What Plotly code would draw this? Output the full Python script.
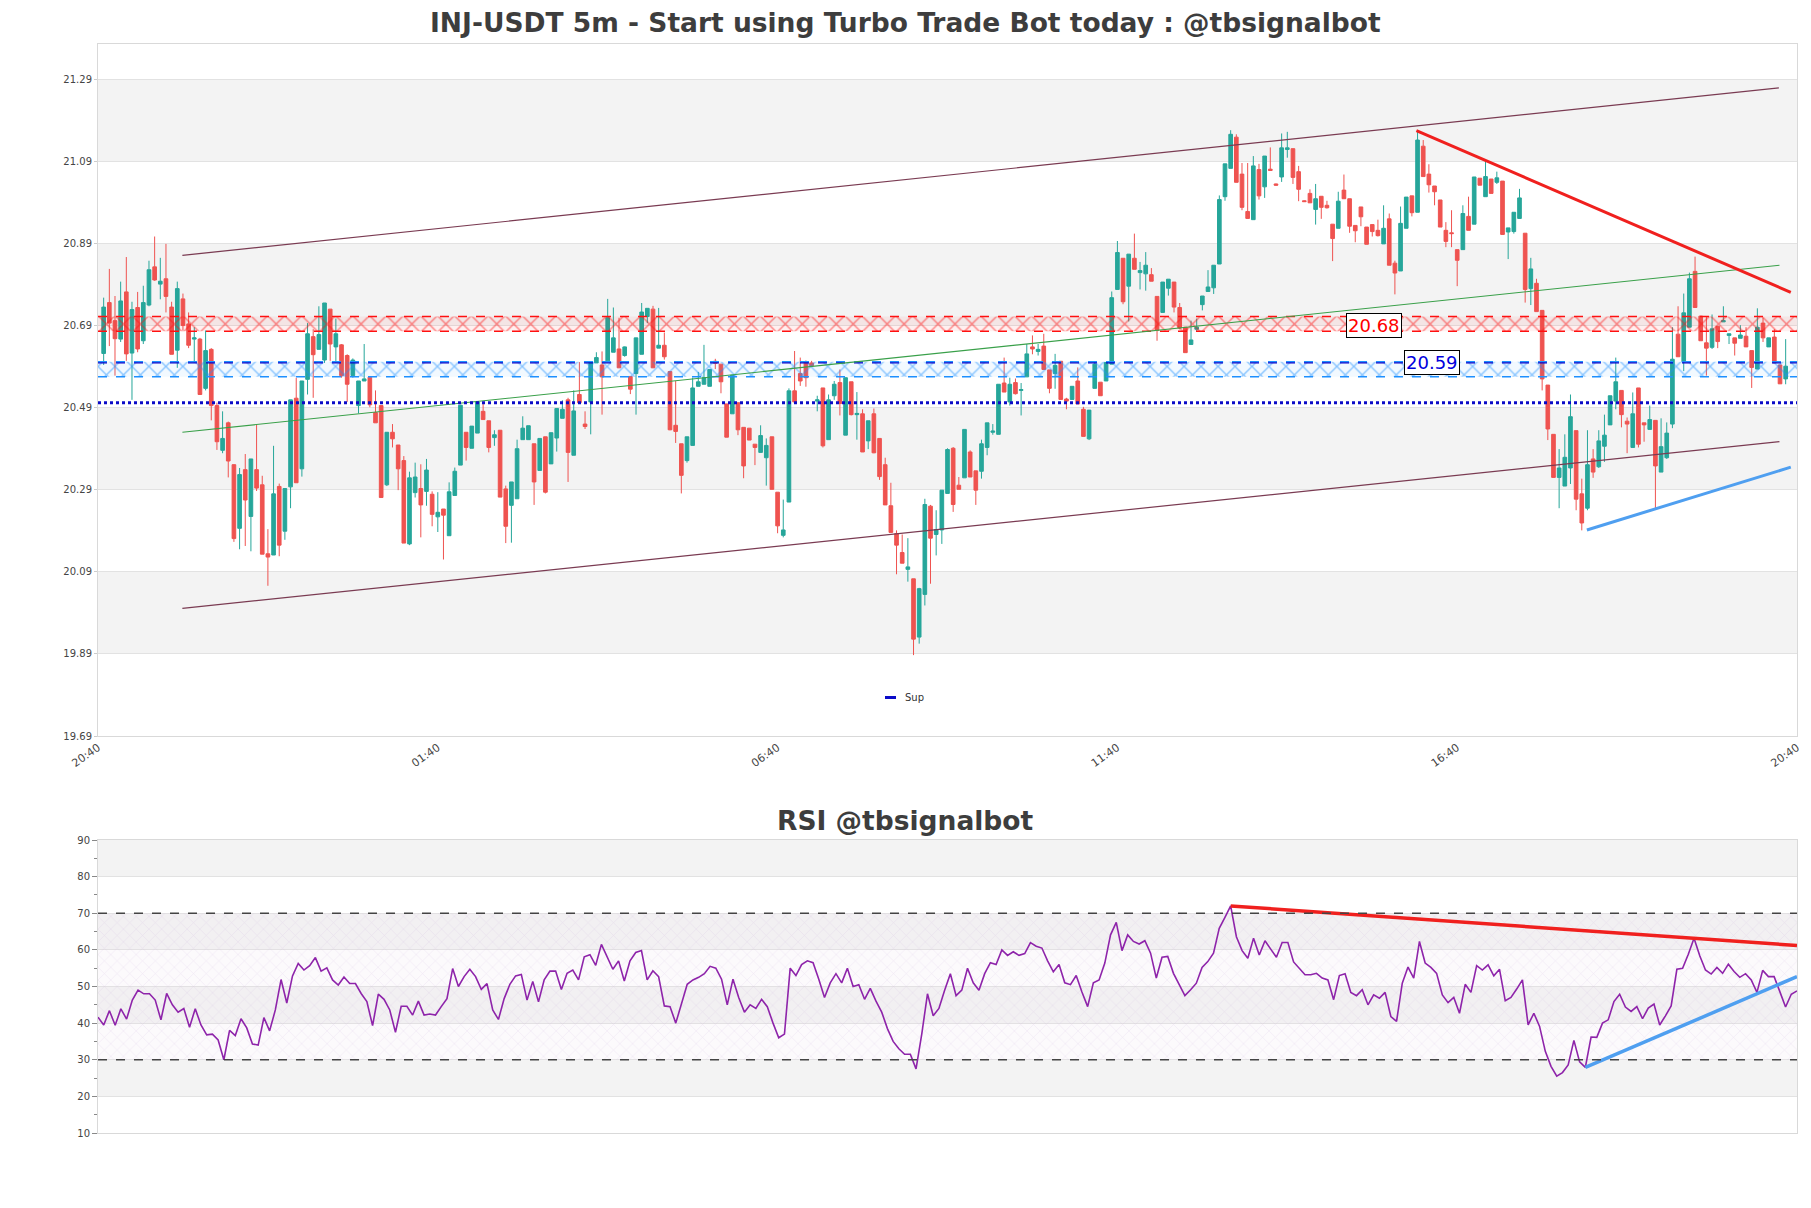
import plotly.graph_objects as go

# ---------------- data ----------------
candle_x = list(range(1, 299))
opens = [20.622,20.746,20.702,20.657,20.772,20.623,20.734,20.653,20.740,20.833,20.791,20.804,20.735,20.630,20.755,20.694,20.657,20.657,20.537,20.632,
20.495,20.386,20.453,20.351,20.196,20.339,20.225,20.339,20.302,20.134,20.131,20.298,20.189,20.297,20.513,20.341,20.559,20.663,20.632,20.606,
20.730,20.638,20.643,20.617,20.568,20.495,20.555,20.564,20.478,20.495,20.302,20.430,20.399,20.361,20.158,20.283,20.293,20.286,20.279,20.224,
20.243,20.178,20.276,20.350,20.430,20.391,20.428,20.481,20.458,20.417,20.435,20.292,20.252,20.268,20.412,20.412,20.402,20.337,20.419,20.353,
20.416,20.464,20.509,20.374,20.522,20.450,20.504,20.599,20.594,20.604,20.625,20.633,20.617,20.566,20.573,20.620,20.712,20.730,20.635,20.642,
20.578,20.447,20.402,20.361,20.398,20.542,20.547,20.542,20.603,20.596,20.499,20.475,20.502,20.442,20.440,20.401,20.381,20.368,20.419,20.284,
20.179,20.260,20.531,20.573,20.601,20.599,20.506,20.538,20.412,20.519,20.551,20.423,20.553,20.473,20.475,20.409,20.475,20.415,20.351,20.251,
20.183,20.137,20.096,20.073,19.931,20.035,20.250,20.181,20.192,20.281,20.391,20.301,20.319,20.382,20.336,20.335,20.393,20.430,20.425,20.550,
20.504,20.551,20.532,20.565,20.638,20.627,20.640,20.582,20.573,20.603,20.511,20.510,20.555,20.486,20.414,20.537,20.552,20.555,20.596,20.778,
20.854,20.786,20.854,20.819,20.816,20.814,20.761,20.722,20.781,20.796,20.734,20.686,20.644,20.681,20.741,20.773,20.782,20.840,21.004,21.073,
21.149,21.059,20.968,20.948,21.070,21.028,21.071,21.035,21.052,21.119,21.121,21.065,20.994,21.012,20.973,21.005,20.983,20.937,20.927,21.020,
20.999,20.934,20.979,20.930,20.936,20.922,20.889,20.950,20.842,20.823,20.927,21.006,20.966,21.127,21.059,21.030,20.996,20.922,20.916,20.875,
20.875,20.956,20.937,21.049,21.004,21.047,21.039,21.042,20.918,20.919,20.951,20.915,20.780,20.793,20.727,20.545,20.425,20.320,20.299,20.343,
20.434,20.280,20.245,20.365,20.346,20.396,20.448,20.506,20.532,20.457,20.393,20.538,20.453,20.437,20.459,20.333,20.368,20.450,20.669,20.602,
20.686,20.822,20.713,20.648,20.637,20.688,20.699,20.666,20.660,20.659,20.664,20.629,20.584,20.696,20.638,20.662,20.594,20.560]
highs = [20.758,20.828,20.762,20.797,20.857,20.748,20.772,20.787,20.848,20.907,20.855,20.889,20.748,20.797,20.768,20.722,20.686,20.660,20.678,20.635,
20.502,20.481,20.456,20.352,20.343,20.377,20.365,20.448,20.324,20.194,20.397,20.305,20.293,20.509,20.563,20.555,20.696,20.681,20.737,20.745,
20.730,20.707,20.645,20.620,20.610,20.555,20.645,20.564,20.532,20.495,20.430,20.450,20.399,20.372,20.334,20.356,20.352,20.365,20.286,20.284,
20.243,20.308,20.344,20.496,20.430,20.445,20.504,20.502,20.458,20.435,20.435,20.300,20.309,20.412,20.469,20.446,20.402,20.415,20.419,20.429,
20.488,20.508,20.514,20.532,20.601,20.481,20.602,20.625,20.627,20.755,20.734,20.709,20.639,20.566,20.660,20.745,20.732,20.738,20.733,20.673,
20.578,20.555,20.402,20.419,20.563,20.577,20.643,20.583,20.609,20.596,20.499,20.569,20.502,20.442,20.440,20.401,20.447,20.415,20.419,20.284,
20.266,20.537,20.628,20.612,20.605,20.604,20.519,20.538,20.522,20.555,20.583,20.563,20.553,20.528,20.486,20.458,20.488,20.415,20.368,20.307,
20.191,20.181,20.172,20.073,20.051,20.268,20.253,20.240,20.289,20.391,20.394,20.321,20.437,20.386,20.336,20.412,20.453,20.450,20.547,20.612,
20.563,20.561,20.550,20.645,20.666,20.645,20.670,20.582,20.621,20.603,20.514,20.542,20.588,20.492,20.484,20.602,20.552,20.600,20.773,20.896,
20.854,20.864,20.914,20.845,20.869,20.830,20.761,20.796,20.803,20.796,20.745,20.686,20.702,20.707,20.762,20.825,20.837,21.007,21.084,21.166,
21.156,21.086,21.086,21.103,21.084,21.103,21.124,21.036,21.158,21.162,21.121,21.079,20.995,21.022,21.035,21.005,20.994,20.937,21.016,21.058,
20.999,20.934,20.979,20.930,20.936,20.948,20.983,20.963,20.848,20.980,21.003,21.006,21.165,21.142,21.083,21.030,20.996,20.942,20.971,20.875,
20.983,21.004,21.052,21.049,21.091,21.047,21.065,21.042,20.928,20.966,21.023,20.915,20.855,20.804,20.727,20.545,20.425,20.389,20.425,20.522,
20.434,20.317,20.435,20.389,20.435,20.473,20.519,20.612,20.532,20.466,20.527,20.538,20.453,20.495,20.459,20.464,20.454,20.686,20.737,20.768,
20.819,20.858,20.713,20.711,20.717,20.688,20.737,20.670,20.660,20.691,20.686,20.629,20.732,20.709,20.660,20.681,20.594,20.657]
lows = [20.594,20.640,20.568,20.650,20.604,20.509,20.625,20.645,20.737,20.799,20.754,20.722,20.620,20.587,20.678,20.635,20.600,20.522,20.532,20.459,
20.387,20.379,20.320,20.163,20.145,20.153,20.140,20.287,20.133,20.056,20.131,20.128,20.168,20.245,20.307,20.322,20.522,20.514,20.632,20.599,
20.604,20.599,20.563,20.504,20.563,20.476,20.555,20.491,20.453,20.271,20.299,20.393,20.289,20.160,20.155,20.271,20.174,20.251,20.201,20.187,
20.120,20.178,20.276,20.350,20.361,20.391,20.428,20.461,20.381,20.397,20.272,20.160,20.161,20.268,20.412,20.412,20.253,20.337,20.281,20.353,
20.383,20.464,20.309,20.374,20.502,20.438,20.425,20.599,20.473,20.604,20.625,20.587,20.614,20.523,20.473,20.620,20.696,20.587,20.635,20.607,
20.435,20.404,20.281,20.356,20.398,20.542,20.547,20.542,20.584,20.525,20.418,20.475,20.423,20.318,20.411,20.350,20.381,20.300,20.291,20.184,
20.174,20.260,20.504,20.543,20.541,20.589,20.481,20.393,20.412,20.509,20.471,20.423,20.471,20.412,20.382,20.389,20.379,20.314,20.253,20.186,
20.084,20.111,20.066,19.887,19.915,20.008,20.061,20.130,20.158,20.281,20.236,20.291,20.319,20.321,20.253,20.317,20.374,20.424,20.425,20.528,
20.495,20.522,20.471,20.565,20.620,20.617,20.583,20.525,20.536,20.510,20.486,20.510,20.499,20.420,20.411,20.537,20.519,20.555,20.596,20.778,
20.742,20.700,20.827,20.778,20.775,20.798,20.653,20.722,20.763,20.722,20.681,20.624,20.644,20.676,20.727,20.773,20.767,20.840,20.994,21.073,
21.039,20.971,20.951,20.948,20.997,21.001,21.068,21.031,21.040,21.099,21.035,20.993,20.991,20.989,20.936,20.950,20.975,20.847,20.927,20.999,
20.916,20.893,20.932,20.888,20.907,20.907,20.889,20.837,20.766,20.823,20.927,20.956,20.966,21.053,21.014,20.983,20.930,20.881,20.881,20.786,
20.875,20.922,20.937,21.032,21.004,21.012,21.035,20.912,20.852,20.914,20.951,20.746,20.740,20.724,20.532,20.411,20.320,20.245,20.299,20.304,
20.240,20.191,20.240,20.319,20.343,20.358,20.448,20.486,20.442,20.379,20.393,20.393,20.407,20.437,20.245,20.333,20.365,20.440,20.614,20.579,
20.686,20.734,20.653,20.568,20.633,20.635,20.699,20.645,20.617,20.659,20.638,20.538,20.584,20.650,20.638,20.599,20.548,20.547]
closes = [20.735,20.696,20.658,20.750,20.621,20.729,20.633,20.746,20.826,20.801,20.798,20.761,20.620,20.780,20.690,20.642,20.660,20.522,20.629,20.495,
20.407,20.415,20.360,20.171,20.327,20.265,20.365,20.294,20.133,20.126,20.280,20.155,20.293,20.509,20.307,20.555,20.670,20.619,20.668,20.745,
20.645,20.670,20.568,20.547,20.606,20.555,20.560,20.497,20.453,20.271,20.430,20.414,20.341,20.160,20.319,20.321,20.253,20.338,20.230,20.235,
20.228,20.285,20.335,20.496,20.393,20.445,20.504,20.461,20.393,20.424,20.272,20.201,20.309,20.390,20.440,20.446,20.309,20.415,20.284,20.429,
20.488,20.486,20.381,20.482,20.502,20.444,20.602,20.612,20.565,20.709,20.660,20.587,20.638,20.535,20.660,20.723,20.732,20.587,20.642,20.614,
20.436,20.432,20.325,20.419,20.538,20.553,20.563,20.583,20.598,20.553,20.418,20.569,20.436,20.348,20.411,20.393,20.422,20.398,20.291,20.202,
20.192,20.531,20.504,20.555,20.563,20.592,20.509,20.397,20.509,20.547,20.500,20.563,20.473,20.476,20.382,20.458,20.380,20.322,20.253,20.186,
20.155,20.111,20.102,19.926,20.049,20.254,20.172,20.193,20.289,20.388,20.254,20.291,20.437,20.321,20.289,20.402,20.453,20.433,20.547,20.528,
20.547,20.524,20.534,20.621,20.633,20.632,20.583,20.537,20.593,20.510,20.506,20.542,20.499,20.420,20.484,20.596,20.519,20.600,20.758,20.868,
20.748,20.864,20.827,20.824,20.837,20.798,20.678,20.796,20.803,20.735,20.684,20.624,20.655,20.686,20.762,20.784,20.837,20.997,21.084,21.156,
21.039,20.978,20.951,21.079,21.006,21.103,21.068,21.032,21.123,21.123,21.051,21.022,20.992,20.989,20.999,20.978,20.977,20.902,20.993,20.999,
20.932,20.921,20.955,20.888,20.919,20.909,20.927,20.837,20.818,20.939,21.003,20.965,21.142,21.053,21.033,21.016,20.930,20.895,20.914,20.849,
20.963,20.922,21.052,21.032,21.053,21.012,21.050,20.912,20.928,20.966,21.001,20.778,20.828,20.724,20.560,20.438,20.320,20.343,20.369,20.468,
20.267,20.209,20.351,20.333,20.409,20.423,20.519,20.553,20.473,20.450,20.475,20.401,20.448,20.461,20.348,20.395,20.428,20.608,20.614,20.721,
20.804,20.734,20.653,20.635,20.682,20.651,20.702,20.670,20.647,20.667,20.638,20.588,20.686,20.660,20.660,20.599,20.548,20.591]

rsi_values = [41.6,39.5,43.4,39.4,43.9,41.1,46.3,49.0,48.0,48.0,
46.3,40.9,48.1,45.0,43.0,44.0,38.9,43.9,39.5,36.8,
37.0,35.4,30.0,38.0,36.6,41.2,38.7,34.3,34.0,41.5,
37.9,43.6,51.9,45.5,52.9,56.3,54.5,55.7,57.9,54.2,
55.1,51.8,50.4,52.6,50.8,50.8,48.1,45.9,39.3,47.9,
46.5,43.6,37.5,44.6,44.6,42.2,46.0,42.2,42.5,42.2,
44.5,46.7,54.9,50.0,52.7,54.7,52.7,49.2,50.8,43.6,
41.0,46.7,50.6,52.9,53.3,46.3,51.4,45.8,51.8,54.2,
54.2,49.2,53.6,54.5,51.8,58.1,58.7,55.8,61.5,58.3,
54.7,57.0,51.5,57.0,59.3,59.8,51.8,54.3,52.7,44.7,
44.5,40.0,45.4,50.6,51.8,
52.5,53.5,55.5,55.0,52.0,45.0,52.0,47.0,43.0,45.0,
44.0,46.5,44.5,40.0,36.0,37.0,55.0,53.0,56.0,57.0,
56.5,52.0,47.0,51.0,53.5,51.0,55.0,50.0,50.5,46.5,
49.5,46.0,43.0,38.5,35.0,33.0,31.5,31.5,27.5,37.0,
48.0,42.0,44.0,49.0,53.5,47.5,49.0,55.0,51.0,49.0,
53.5,56.5,56.0,60.0,58.5,59.5,58.5,59.0,62.0,61.0,
60.5,57.0,54.0,56.0,51.0,50.5,53.0,48.5,44.5,51.0,
51.8,56.4,64.1,67.5,59.8,64.1,62.3,61.6,62.5,59.1,
52.3,58.0,58.2,53.6,50.5,47.5,49.1,50.9,55.2,56.8,
59.1,65.9,68.9,72.0,63.6,59.8,57.7,63.2,58.6,62.5,
60.2,58.0,62.0,62.0,56.7,55.0,53.2,53.2,53.6,52.3,
51.8,46.4,53.0,53.5,48.4,47.5,49.1,45.0,47.7,46.8,
48.4,41.8,40.5,50.9,55.3,52.3,62.3,56.4,55.2,53.6,
47.7,45.6,47.0,42.7,50.6,48.4,55.7,54.5,55.9,52.9,
54.7,46.1,47.0,49.3,51.8,39.5,42.7,39.1,32.3,28.2,
25.5,26.5,28.6,35.3,29.4,27.9,36.2,36.1,40.0,40.9,
45.9,47.9,44.4,43.2,44.5,41.2,44.1,45.2,39.5,42.0,
44.7,54.7,55.0,58.8,63.2,58.4,54.5,53.4,55.2,53.6,
56.1,54.1,52.5,53.5,51.8,48.4,54.4,52.7,52.7,48.6,
44.4,47.9,48.8]
rsi_x = list(range(len(rsi_values)))

tick_pos = [0, 60, 120, 180, 240, 300]
tick_labels = ["20:40", "01:40", "06:40", "11:40", "16:40", "20:40"]
price_ticks = [19.69, 19.89, 20.09, 20.29, 20.49, 20.69, 20.89, 21.09, 21.29]
rsi_ticks = [10, 20, 30, 40, 50, 60, 70, 80, 90]

res_zone = [20.676, 20.712]
res_label = "20.68"
sup_zone = [20.565, 20.602]
sup_label = "20.59"
sup_level = 20.502

chan_upper_x = [14.9, 296.8]; chan_upper_y = [20.861, 21.269]
chan_lower_x = [14.9, 296.9]; chan_lower_y = [20.001, 20.407]
chan_mid_x = [14.9, 296.9];   chan_mid_y = [20.430, 20.837]
res_trend_x = [232.8, 298.9]; res_trend_y = [21.165, 20.771]
sup_trend_x = [262.9, 298.9]; sup_trend_y = [20.192, 20.345]
rsi_res_x = [198, 297]; rsi_res_y = [72.0, 61.2]
rsi_sup_x = [260, 297]; rsi_sup_y = [27.9, 52.7]

# ---------------- figure ----------------
W, H = 1811, 1208
xdom = [98 / W, 1797 / W]
main_dom = [1 - 736 / H, 1 - 44 / H]
rsi_dom = [1 - 1133 / H, 1 - 840 / H]

fig = go.Figure()

def zone(y0, y1, color, fill_rgba):
    fig.add_trace(go.Scatter(
        x=[0, 300, 300, 0, 0], y=[y0, y0, y1, y1, y0], mode="lines",
        line=dict(width=0), fill="toself", fillcolor=fill_rgba,
        fillpattern=dict(shape="x", fgcolor=color, size=12, solidity=0.22),
        showlegend=False, hoverinfo="skip", xaxis="x", yaxis="y"))
    for yy in (y0, y1):
        fig.add_trace(go.Scatter(x=[0, 300], y=[yy, yy], mode="lines",
                                 line=dict(color=color, width=1.5, dash="dash"),
                                 showlegend=False, hoverinfo="skip", xaxis="x", yaxis="y"))

zone(res_zone[0], res_zone[1], "#ff1010", "rgba(255,0,0,0.06)")
zone(sup_zone[0], sup_zone[1], "#1e90ff", "rgba(30,144,255,0.06)")
fig.add_trace(go.Scatter(x=[0, 300], y=[sup_zone[1] - 0.003] * 2, mode="lines",
                         line=dict(color="#0000cc", width=1.3, dash="dash"),
                         showlegend=False, hoverinfo="skip"))

for xs, ys, col, w in [(chan_upper_x, chan_upper_y, "#7a3b52", 1.2),
                       (chan_lower_x, chan_lower_y, "#7a3b52", 1.2),
                       (chan_mid_x, chan_mid_y, "#3aa04a", 1.1)]:
    fig.add_trace(go.Scatter(x=xs, y=ys, mode="lines", line=dict(color=col, width=w),
                             showlegend=False, hoverinfo="skip"))

fig.add_trace(go.Candlestick(
    x=candle_x, open=opens, high=highs, low=lows, close=closes,
    increasing=dict(line=dict(color="#26a69a", width=1), fillcolor="#26a69a"),
    decreasing=dict(line=dict(color="#ef5350", width=1), fillcolor="#ef5350"),
    showlegend=False, xaxis="x", yaxis="y"))

fig.add_trace(go.Scatter(x=[0, 300], y=[sup_level, sup_level], mode="lines",
                         line=dict(color="#0b0bc8", width=3, dash="dot"), name="Sup",
                         showlegend=False))

fig.add_trace(go.Scatter(x=res_trend_x, y=res_trend_y, mode="lines",
                         line=dict(color="#f0201e", width=3), showlegend=False, hoverinfo="skip"))
fig.add_trace(go.Scatter(x=sup_trend_x, y=sup_trend_y, mode="lines",
                         line=dict(color="#4f9ff0", width=3), showlegend=False, hoverinfo="skip"))

fig.add_trace(go.Scatter(
    x=[0, 297, 297, 0, 0], y=[30, 30, 70, 70, 30], mode="lines", line=dict(width=0),
    fill="toself", fillcolor="rgba(230,220,235,0.15)",
    fillpattern=dict(shape="x", fgcolor="rgba(200,170,215,0.6)", size=9, solidity=0.1),
    showlegend=False, hoverinfo="skip", xaxis="x2", yaxis="y2"))

fig.add_trace(go.Scatter(x=rsi_x, y=rsi_values, mode="lines",
                         line=dict(color="#8e24aa", width=1.6), showlegend=False,
                         xaxis="x2", yaxis="y2"))
fig.add_trace(go.Scatter(x=rsi_res_x, y=rsi_res_y, mode="lines",
                         line=dict(color="#f0201e", width=3.5), showlegend=False,
                         xaxis="x2", yaxis="y2", hoverinfo="skip"))
fig.add_trace(go.Scatter(x=rsi_sup_x, y=rsi_sup_y, mode="lines",
                         line=dict(color="#4f9ff0", width=3.5), showlegend=False,
                         xaxis="x2", yaxis="y2", hoverinfo="skip"))

shapes = []
for a, b in [(21.09, 21.29), (20.69, 20.89), (20.29, 20.49), (19.89, 20.09)]:
    shapes.append(dict(type="rect", xref="x domain", yref="y", x0=0, x1=1, y0=a, y1=b,
                       fillcolor="#f3f3f3", line=dict(width=0), layer="below"))
for a, b in [(80, 90), (60, 70), (40, 50), (20, 30)]:
    shapes.append(dict(type="rect", xref="x2 domain", yref="y2", x0=0, x1=1, y0=a, y1=b,
                       fillcolor="#f3f3f3", line=dict(width=0), layer="below"))
for lvl in (30, 70):
    shapes.append(dict(type="line", xref="x2 domain", yref="y2", x0=0, x1=1, y0=lvl, y1=lvl,
                       line=dict(color="#444444", width=1.3, dash="dash")))
shapes.append(dict(type="line", xref="paper", yref="paper", x0=885 / W, x1=896 / W,
                   y0=1 - 697.5 / H, y1=1 - 697.5 / H, line=dict(color="#0b0bc8", width=3)))

tick_font = dict(family="DejaVu Sans", size=10, color="#444444")
xtick_font = dict(family="DejaVu Sans", size=11, color="#444444")
title_font = dict(family="DejaVu Sans", size=26.5, color="#3d3d3d")

annotations = [
    dict(text="<b>INJ-USDT 5m - Start using Turbo Trade Bot today : @tbsignalbot</b>",
         x=0.5, y=1 - 22 / H, xref="paper", yref="paper", showarrow=False,
         font=title_font, xanchor="center", yanchor="middle"),
    dict(text="<b>RSI @tbsignalbot</b>", x=0.5, y=1 - 820 / H, xref="paper", yref="paper",
         showarrow=False, font=title_font, xanchor="center", yanchor="middle"),
    dict(text=res_label, x=225.3, y=20.690, xref="x", yref="y", showarrow=False,
         font=dict(family="DejaVu Sans", size=18, color="#ff0000"),
         bgcolor="white", bordercolor="black", borderwidth=1, borderpad=1),
    dict(text=sup_label, x=235.6, y=20.599, xref="x", yref="y", showarrow=False,
         font=dict(family="DejaVu Sans", size=18, color="#0000dd"),
         bgcolor="white", bordercolor="black", borderwidth=1, borderpad=1),
    dict(text="Sup", x=903 / W, y=1 - 697.5 / H, xref="paper", yref="paper", showarrow=False,
         font=dict(family="DejaVu Sans", size=10, color="#333333"),
         xanchor="left", yanchor="middle"),
]

fig.update_layout(
    width=W, height=H, margin=dict(l=0, r=0, t=0, b=0, autoexpand=False),
    paper_bgcolor="white", plot_bgcolor="white",
    boxgap=0.08, showlegend=False,
    shapes=shapes, annotations=annotations,
    xaxis=dict(domain=xdom, range=[0, 300], anchor="y", tickvals=tick_pos, ticktext=tick_labels,
               tickangle=-35, tickfont=xtick_font, showgrid=False, zeroline=False,
               showline=True, mirror=True, linecolor="#d9d9d9", linewidth=1,
               rangeslider=dict(visible=False), ticks="", automargin=False),
    yaxis=dict(domain=main_dom, range=[19.69, 21.376], anchor="x", tickvals=price_ticks,
               ticktext=[f"{v:.2f}" for v in price_ticks], tickfont=tick_font,
               showgrid=True, gridcolor="#e2e2e2", zeroline=False,
               showline=True, mirror=True, linecolor="#d9d9d9", linewidth=1,
               ticks="outside", ticklen=3, tickcolor="#cccccc", automargin=False),
    xaxis2=dict(domain=xdom, range=[0, 297], anchor="y2", showticklabels=False, showgrid=False,
                zeroline=False, showline=True, mirror=True, linecolor="#d9d9d9", ticks="",
                automargin=False),
    yaxis2=dict(domain=rsi_dom, range=[10, 90], anchor="x2", tickvals=rsi_ticks,
                tickfont=tick_font, showgrid=True, gridcolor="#e2e2e2", zeroline=False,
                showline=True, mirror=True, linecolor="#d9d9d9",
                ticks="outside", ticklen=5, tickcolor="#888888", automargin=False,
                minor=dict(dtick=5, ticks="outside", ticklen=3, tickcolor="#888888", showgrid=False)),
)

fig.write_html("out.html")
